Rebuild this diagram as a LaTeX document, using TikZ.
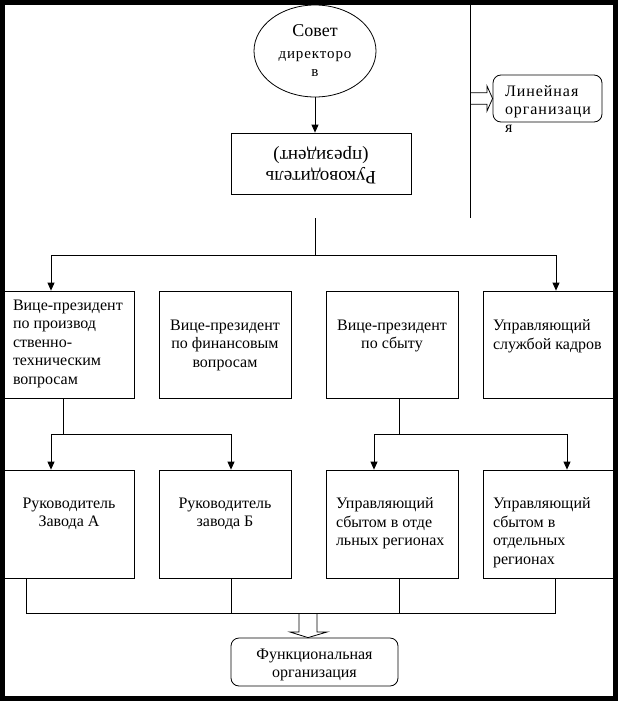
\documentclass[tikz,border=0pt]{standalone}
\usepackage{fontspec}
\setmainfont{Liberation Serif}
\newfontfamily\widefont[LetterSpace=6]{Liberation Serif}
\usetikzlibrary{arrows.meta,shapes.geometric,calc}
\begin{document}
\begin{tikzpicture}[x=1pt,y=-1pt,line width=0.8pt,
  box/.style={draw,rectangle,inner sep=0pt},
  rbox/.style={draw,rectangle,rounded corners=8pt,inner sep=0pt},
  lbl/.style={inner sep=0pt,font=\fontsize{16}{18.5}\selectfont},
  arr/.style={-{Triangle[length=8pt,width=7pt]}},
  hollow/.style={draw,fill=white,line join=miter}]
\fill[black] (0,0) rectangle (618,701);
\fill[white] (5,5) rectangle (613,696);
\useasboundingbox (0,0) rectangle (618,701);

% top part
\node[draw,ellipse,minimum width=122pt,minimum height=92pt,inner sep=0pt,align=center,
      font=\fontsize{15}{18}\selectfont] (sovet) at (315,51)
  {{\fontsize{18}{20}\selectfont Совет}\\[4pt]{\widefont директоро}\\в};
\node[box,minimum width=180pt,minimum height=61pt] (ruk) at (321,163.5) {};
\node[rotate=180,align=center,inner sep=0pt,font=\fontsize{19}{21}\selectfont] (rukt) at (321,165) {Руководитель\\(президент)};

\node[rbox,minimum width=109pt,minimum height=47pt] (lin) at (547.5,98.5) {};
\node[lbl,anchor=north west,align=left,font=\widefont\fontsize{16}{18}\selectfont] (lint) at ($(lin.north west)+(12,11)$) {Линейная\\организаци\\я};

% row 1
\node[box,minimum width=130pt,minimum height=107pt] (v1) at (69,344.5) {};
\node[box,minimum width=132pt,minimum height=107pt] (v2) at (225,344.5) {};
\node[box,minimum width=132pt,minimum height=107pt] (v3) at (392,344.5) {};
\node[box,minimum width=130pt,minimum height=107pt] (v4) at (548,344.5) {};
\node[lbl,anchor=north west,align=left] (v1t) at ($(v1.north west)+(9,9)$) {Вице-президент\\по производ\\ственно-\\техническим\\вопросам};
\node[lbl,anchor=north,align=center] (v2t) at ($(v2.north)+(0,29)$) {Вице-президент\\по финансовым\\вопросам};
\node[lbl,anchor=north,align=center] (v3t) at ($(v3.north)+(0,29)$) {Вице-президент\\по сбыту};
\node[lbl,anchor=north west,align=left] (v4t) at ($(v4.north west)+(10,29)$) {Управляющий\\службой кадров};

% row 2
\node[box,minimum width=130pt,minimum height=108pt] (a1) at (69,524) {};
\node[box,minimum width=132pt,minimum height=108pt] (b1) at (225,524) {};
\node[box,minimum width=132pt,minimum height=108pt] (c1) at (392,524) {};
\node[box,minimum width=130pt,minimum height=108pt] (d1) at (548,524) {};
\node[lbl,anchor=north,align=center] (a1t) at ($(a1.north)+(0,28)$) {Руководитель\\Завода А};
\node[lbl,anchor=north,align=center] (b1t) at ($(b1.north)+(0,28)$) {Руководитель\\завода Б};
\node[lbl,anchor=north west,align=left] (c1t) at ($(c1.north west)+(10,28)$) {Управляющий\\сбытом в отде\\льных регионах};
\node[lbl,anchor=north west,align=left] (d1t) at ($(d1.north west)+(10,28)$) {Управляющий\\сбытом в\\отдельных\\регионах};

% bottom
\node[rbox,minimum width=167pt,minimum height=48pt] (func) at (314.5,662) {};
\node[lbl,anchor=north,align=center] (funct) at ($(func.north)+(0,11)$) {Функциональная\\организация};

% hollow arrows
\draw[hollow] (470,92.7) -- (487,92.7) -- (487,86) -- (lin.west) -- (487,111) -- (487,104.3) -- (470,104.3);
\draw[hollow] (299,613) -- (299,632) -- (290,632) -- ([xshift=-6.5pt]func.north) -- (327,632) -- (317,632) -- (317,613);

% separator
\coordinate (sepT) at (470,5);
\coordinate (sepB) at (470,218);
\draw (sepT) -- (sepB);

% connectors
\draw[arr] (sovet.south) -- (ruk.north -| sovet.south);
\coordinate (j0) at (315,218);
\coordinate (j1) at (315,255);
\draw (j0) -- (j1);
\draw[arr] (j1) -| ([xshift=-18pt]v1.north);
\draw[arr] (j1) -| ([xshift=8pt]v4.north);

\coordinate (j2) at (63,434);
\draw ([xshift=-6pt]v1.south) -- (j2);
\draw[arr] (j2) -| ([xshift=-18pt]a1.north);
\draw[arr] (j2) -| ([xshift=6pt]b1.north);

\coordinate (j3) at (399,434);
\draw ([xshift=7pt]v3.south) -- (j3);
\draw[arr] (j3) -| ([xshift=-18pt]c1.north);
\draw[arr] (j3) -| ([xshift=19pt]d1.north);

\coordinate (j4) at (26,613);
\coordinate (j5) at (555,613);
\draw ([xshift=-43pt]a1.south) -- (j4) -- (j5) -- ([xshift=7pt]d1.south);
\draw ([xshift=6pt]b1.south) -- ++(0,35);
\draw ([xshift=7pt]c1.south) -- ++(0,35);
\end{tikzpicture}
\end{document}
